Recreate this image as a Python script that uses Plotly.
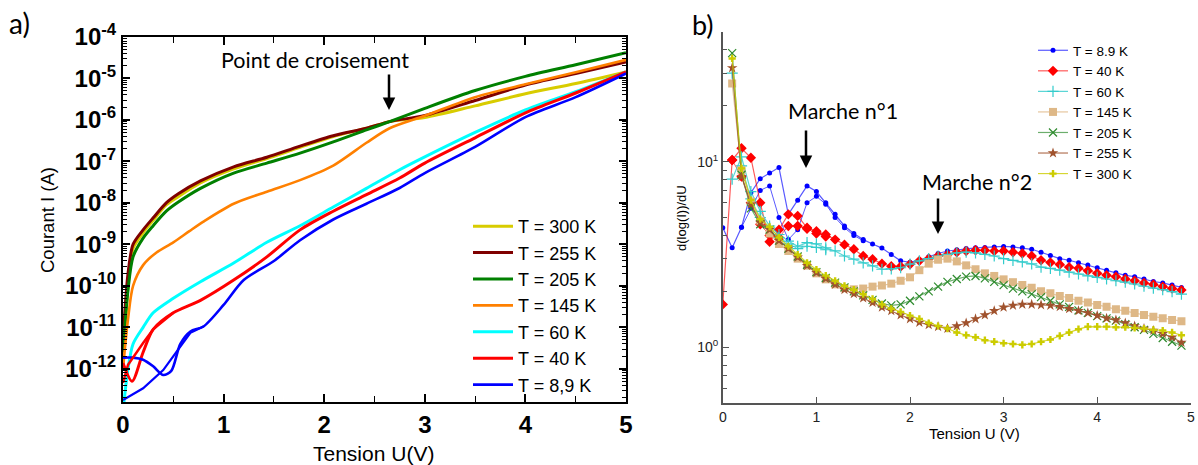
import numpy as np
import plotly.graph_objects as go

# ---------------- Panel a : I(V) curves (log10 of current in A) ----------------
V_hi = [0, 0.05, 0.1, 0.2, 0.3, 0.43, 0.55, 0.77, 1.1, 1.43, 1.76, 2.09, 2.42, 2.65, 3.0, 3.5, 4.0, 4.5, 5.0]
logI_300K = [-11.8, -10.0, -9.1, -8.72, -8.42, -8.05, -7.85, -7.52, -7.18, -6.93, -6.66, -6.4, -6.2, -6.04, -5.94, -5.66, -5.37, -5.12, -4.84]
logI_255K = [-11.3, -9.7, -9.0, -8.65, -8.36, -8.0, -7.78, -7.47, -7.13, -6.9, -6.63, -6.38, -6.2, -6.04, -5.89, -5.53, -5.16, -4.88, -4.6]
logI_205K = [-11.6, -10.1, -9.3, -8.85, -8.55, -8.2, -7.98, -7.65, -7.28, -7.04, -6.8, -6.53, -6.24, -6.04, -5.72, -5.29, -4.95, -4.67, -4.38]

V_145 = [0, 0.05, 0.1, 0.2, 0.33, 0.5, 0.66, 0.8, 1.1, 1.43, 1.76, 2.09, 2.42, 2.65, 3.0, 3.5, 4.0, 4.5, 5.0]
logI_145K = [-12.0, -10.8, -10.0, -9.5, -9.2, -8.95, -8.68, -8.45, -8.02, -7.73, -7.45, -7.1, -6.55, -6.2, -5.9, -5.45, -5.14, -4.85, -4.55]

V_60 = [0.01, 0.05, 0.1, 0.2, 0.3, 0.5, 0.77, 1.1, 1.43, 1.76, 2.09, 2.42, 2.75, 3.0, 3.5, 4.0, 4.5, 5.0]
logI_60K = [-12.8, -12.0, -11.4, -11.0, -10.65, -10.3, -9.9, -9.45, -8.95, -8.55, -8.1, -7.65, -7.2, -6.89, -6.3, -5.76, -5.32, -4.84]

V_40a = [0, 0.09, 0.2, 0.3, 0.5, 0.77, 1.1, 1.43, 1.76, 2.09, 2.42, 2.75, 3.0, 3.5, 4.0, 4.5, 5.0]
logI_40K_a = [-11.86, -12.3, -11.6, -11.05, -10.65, -10.35, -9.86, -9.3, -8.65, -8.2, -7.8, -7.4, -7.04, -6.43, -5.83, -5.35, -4.84]
V_40b = [0, 0.05, 0.2, 0.3, 0.5]
logI_40K_b = [-12.34, -11.9, -11.38, -11.05, -10.65]

V_9a = [0, 0.1, 0.2, 0.3, 0.4, 0.48, 0.57, 0.67, 0.8, 1.0, 1.2, 1.5, 1.76, 2.09, 2.42, 2.75, 3.0, 3.5, 4.0, 4.5, 5.0]
logI_9K_a = [-11.73, -11.73, -11.78, -11.94, -12.15, -12.05, -11.4, -11.1, -10.98, -10.46, -9.86, -9.4, -8.9, -8.4, -8.02, -7.64, -7.28, -6.65, -5.93, -5.45, -4.88]
V_9b = [0, 0.2, 0.4, 0.57, 0.67, 0.8]
logI_9K_b = [-12.75, -12.47, -12.03, -11.45, -11.13, -10.98]

# ---------------- Panel b : d(log(I))/dU ----------------
U = [0.0, 0.1, 0.2, 0.3, 0.4, 0.5, 0.6, 0.7, 0.8, 0.9, 1.0, 1.1, 1.2, 1.3, 1.4, 1.5, 1.6, 1.7, 1.8, 1.9,
     2.0, 2.1, 2.2, 2.3, 2.4, 2.5, 2.6, 2.7, 2.8, 2.9, 3.0, 3.1, 3.2, 3.3, 3.4, 3.5, 3.6, 3.7, 3.8, 3.9,
     4.0, 4.1, 4.2, 4.3, 4.4, 4.5, 4.6, 4.7, 4.8, 4.9]
U_from01 = U[1:]

d_8_9K = [4.4, 3.43, 4.43, 6.8, 8.1, 8.7, 9.3, 5.2, 6.2, 7.4, 6.9, 6.0, 5.2, 4.5, 4.1, 3.8, 3.6, 3.42, 3.16, 2.92,
          2.87, 2.94, 3.07, 3.2, 3.3, 3.35, 3.4, 3.43, 3.45, 3.47, 3.49, 3.47, 3.43, 3.37, 3.25, 3.12, 3.0, 2.94, 2.85, 2.77,
          2.68, 2.6, 2.52, 2.44, 2.4, 2.33, 2.26, 2.22, 2.16, 2.1]
U_8_9K_b = [0.2, 0.3, 0.4, 0.5, 0.6, 0.7, 0.8, 0.9, 1.0, 1.1, 1.2, 1.3, 1.4, 1.5]
d_8_9K_b = [4.43, 5.6, 7.0, 7.4, 5.0, 3.8, 4.3, 6.0, 6.5, 5.9, 5.0, 4.4, 4.0, 3.75]

d_40K = [1.7, 10.2, 11.8, 10.5, 6.0, 3.7, 4.3, 5.2, 5.1, 4.4, 4.22, 4.05, 3.8, 3.57, 3.37, 3.1, 2.98, 2.82, 2.73, 2.72,
         2.8, 2.92, 3.0, 3.1, 3.15, 3.25, 3.3, 3.33, 3.33, 3.3, 3.3, 3.25, 3.2, 3.1, 2.94, 2.86, 2.79, 2.7, 2.66, 2.58,
         2.5, 2.44, 2.4, 2.33, 2.28, 2.22, 2.18, 2.12, 2.07, 2.03]
U_40K_b = [0.1, 0.2, 0.3, 0.4, 0.5, 0.6, 0.7, 0.8, 0.9, 1.0, 1.1]
d_40K_b = [10.2, 8.3, 6.0, 4.6, 4.0, 3.9, 4.5, 4.5, 4.35, 4.1, 3.95]

d_60K = [8.05, 10.6, 6.9, 5.4, 4.5, 4.05, 3.73, 3.5, 3.66, 3.6, 3.43, 3.3, 3.1, 2.98, 2.85, 2.74, 2.63, 2.64, 2.68,
         2.8, 2.92, 3.0, 3.1, 3.16, 3.22, 3.25, 3.22, 3.16, 3.1, 3.0, 2.94, 2.88, 2.81, 2.7, 2.66, 2.6, 2.54, 2.48, 2.42,
         2.38, 2.33, 2.28, 2.24, 2.19, 2.13, 2.08, 2.04, 1.99, 1.93]
U_60K_b = [0.1, 0.2, 0.3, 0.4, 0.5, 0.6, 0.7, 0.8, 0.9, 1.0, 1.1]
d_60K_b = [30.0, 9.5, 6.3, 5.0, 4.4, 3.9, 3.6, 3.4, 3.5, 3.45, 3.35]

d_145K = [26.4, 9.0, 6.1, 4.8, 4.1, 3.6, 3.3, 3.0, 2.75, 2.5, 2.32, 2.18, 2.08, 2.05, 2.07, 2.12, 2.15, 2.2, 2.28,
          2.38, 2.6, 2.82, 2.96, 3.0, 2.9, 2.76, 2.63, 2.5, 2.42, 2.32, 2.24, 2.16, 2.09, 2.0, 1.95, 1.89, 1.84, 1.78, 1.74,
          1.69, 1.65, 1.6, 1.57, 1.53, 1.49, 1.46, 1.43, 1.4, 1.38]

d_205K = [38.5, 8.5, 5.6, 4.6, 4.3, 3.75, 3.4, 3.08, 2.78, 2.54, 2.36, 2.23, 2.1, 2.0, 1.9, 1.8, 1.72, 1.68, 1.7,
          1.78, 1.88, 2.0, 2.12, 2.25, 2.33, 2.4, 2.42, 2.35, 2.25, 2.16, 2.07, 2.0, 1.93, 1.86, 1.78, 1.7, 1.65, 1.58, 1.53,
          1.47, 1.43, 1.39, 1.33, 1.28, 1.24, 1.18, 1.12, 1.07, 1.02]

d_255K = [32.0, 8.3, 5.9, 4.7, 4.3, 3.75, 3.4, 3.05, 2.75, 2.52, 2.34, 2.18, 2.04, 1.94, 1.84, 1.74, 1.64, 1.57, 1.49,
          1.42, 1.36, 1.32, 1.29, 1.26, 1.3, 1.35, 1.42, 1.49, 1.57, 1.64, 1.68, 1.7, 1.7, 1.69, 1.68, 1.65, 1.61, 1.57, 1.53,
          1.48, 1.43, 1.4, 1.35, 1.3, 1.26, 1.23, 1.18, 1.13, 1.06]

d_300K = [36.0, 9.2, 6.2, 4.9, 4.45, 3.9, 3.5, 3.15, 2.85, 2.62, 2.43, 2.28, 2.14, 2.04, 1.93, 1.82, 1.7, 1.61, 1.55,
          1.48, 1.42, 1.35, 1.3, 1.26, 1.2, 1.16, 1.13, 1.09, 1.07, 1.05, 1.04, 1.03, 1.04, 1.07, 1.1, 1.15, 1.2, 1.25, 1.29,
          1.29, 1.29, 1.28, 1.28, 1.27, 1.26, 1.24, 1.23, 1.2, 1.16]

# tick labels
a_ytick_vals = [1e-12, 1e-11, 1e-10, 1e-9, 1e-8, 1e-7, 1e-6, 1e-5, 1e-4]
a_ytick_text = ["<b>10<sup>-12</sup></b>", "<b>10<sup>-11</sup></b>", "<b>10<sup>-10</sup></b>",
                "<b>10<sup>-9</sup></b>", "<b>10<sup>-8</sup></b>", "<b>10<sup>-7</sup></b>",
                "<b>10<sup>-6</sup></b>", "<b>10<sup>-5</sup></b>", "<b>10<sup>-4</sup></b>"]
a_xtick_vals = [0, 1, 2, 3, 4, 5]
a_xtick_text = ["<b>0</b>", "<b>1</b>", "<b>2</b>", "<b>3</b>", "<b>4</b>", "<b>5</b>"]
b_ytick_vals = [1, 10]
b_ytick_text = ["10<sup>0</sup>", "10<sup>1</sup>"]

W, H = 1198, 465
ARIAL = "Liberation Sans, Arial, sans-serif"
CALIBRI = "Lato, Carlito, Calibri, sans-serif"

fig = go.Figure()

def tenpow(arr):
    return list(np.power(10.0, np.array(arr)))

# panel a traces (legend order as in the picture)
a_specs = [
    ("T = 300 K", V_hi, logI_300K, "#D8CC00", 3),
    ("T = 255 K", V_hi, logI_255K, "#7F0000", 3),
    ("T = 205 K", V_hi, logI_205K, "#008000", 3),
    ("T = 145 K", V_145, logI_145K, "#FF8000", 2.6),
    ("T = 60 K", V_60, logI_60K, "#00FFFF", 3),
    ("T = 40 K", V_40a, logI_40K_a, "#FF0000", 3),
    ("T = 8,9 K", V_9a, logI_9K_a, "#0000FF", 2.6),
]
for name, vx, ly, col, lw in a_specs:
    fig.add_trace(go.Scatter(x=vx, y=tenpow(ly), mode="lines", name=name,
                             line=dict(color=col, width=lw, shape="spline", smoothing=0.8),
                             xaxis="x", yaxis="y", legend="legend"))
fig.add_trace(go.Scatter(x=V_40b, y=tenpow(logI_40K_b), mode="lines", showlegend=False,
                         line=dict(color="#FF0000", width=2.5), xaxis="x", yaxis="y"))
fig.add_trace(go.Scatter(x=V_9b, y=tenpow(logI_9K_b), mode="lines", showlegend=False,
                         line=dict(color="#0000FF", width=2.2), xaxis="x", yaxis="y"))

# panel b traces
b_specs = [
    ("T = 8.9 K", U, d_8_9K, "#0000FF", "rgba(0,0,255,0.65)", "circle", 5, None),
    ("T = 40 K", U, d_40K, "#FF0000", "rgba(255,0,0,0.65)", "diamond", 8, None),
    ("T = 60 K", U_from01, d_60K, "#33CCCC", "rgba(51,204,204,0.8)", "cross-thin", 8, "#33CCCC"),
    ("T = 145 K", U_from01, d_145K, "#DEB887", "rgba(222,184,135,0.8)", "square", 8, None),
    ("T = 205 K", U_from01, d_205K, "#2E8B2E", "rgba(46,139,46,0.7)", "x-thin", 8, "#2E8B2E"),
    ("T = 255 K", U_from01, d_255K, "#A0522D", "rgba(160,82,45,0.8)", "star", 8, None),
    ("T = 300 K", U_from01, d_300K, "#CCCC00", "rgba(204,204,0,0.8)", "cross", 6, None),
]
extra_b = {
    "T = 8.9 K": (U_8_9K_b, d_8_9K_b),
    "T = 40 K": (U_40K_b, d_40K_b),
    "T = 60 K": (U_60K_b, d_60K_b),
}
for name, ux, dy, col, lcol, sym, sz, mline in b_specs:
    mk = dict(symbol=sym, size=sz, color=col)
    if mline:
        mk["line"] = dict(color=mline, width=1.2)
    if name in extra_b:
        ex, ey = extra_b[name]
        fig.add_trace(go.Scatter(x=ex, y=ey, mode="lines+markers", showlegend=False,
                                 line=dict(color=lcol, width=1), marker=mk,
                                 xaxis="x2", yaxis="y2", legend="legend2"))
    fig.add_trace(go.Scatter(x=ux, y=dy, mode="lines+markers", name=name,
                             line=dict(color=lcol, width=1.2), marker=mk,
                             xaxis="x2", yaxis="y2", legend="legend2"))

# geometry (pixels -> paper)
ax_l, ax_r, ax_t, ax_b = 123, 626, 37, 402
bx_l, bx_r, bx_t, bx_b = 722.8, 1190.8, 32, 403

def px(x):
    return x / W

def py(y):
    return 1 - y / H

a_minor_y = [m * 10.0 ** k for k in range(-13, -4) for m in range(2, 10)]
b_minor_y = [m * 10.0 ** k for k in range(-1, 2) for m in range(2, 10)]

fig.update_layout(
    template="none",
    width=W, height=H,
    margin=dict(l=0, r=0, t=0, b=0, autoexpand=False),
    paper_bgcolor="white", plot_bgcolor="white",
    font=dict(family=ARIAL, color="black"),
    xaxis=dict(domain=[px(ax_l), px(ax_r)], range=[0, 5], anchor="y", automargin=False,
               showline=True, linecolor="black", linewidth=2, mirror="allticks",
               ticks="inside", ticklen=8, tickwidth=1.5, tickcolor="black",
               tickvals=a_xtick_vals, ticktext=a_xtick_text,
               tickfont=dict(size=24, family=ARIAL, color="black"),
               minor=dict(ticks="inside", ticklen=6, tickwidth=1.2, dtick=0.5, tick0=0, tickcolor="black"),
               showgrid=False, zeroline=False),
    yaxis=dict(domain=[py(ax_b), py(ax_t)], type="log", range=[-12.8, -4], anchor="x", automargin=False,
               showline=True, linecolor="black", linewidth=2, mirror="allticks",
               ticks="inside", ticklen=7, tickwidth=1.5, tickcolor="black",
               tickvals=a_ytick_vals, ticktext=a_ytick_text,
               tickfont=dict(size=24, family=ARIAL, color="black"),
               minor=dict(ticks="inside", ticklen=4, tickwidth=1, tickvals=a_minor_y, tickcolor="black"),
               showgrid=False, zeroline=False),
    xaxis2=dict(domain=[px(bx_l), px(bx_r)], range=[0, 5], anchor="y2", automargin=False,
                showline=True, linecolor="#555555", linewidth=1.5, mirror=False,
                ticks="inside", ticklen=6, tickwidth=1, tickcolor="#555555",
                tickvals=[0, 1, 2, 3, 4, 5],
                tickfont=dict(size=14, family=ARIAL, color="#222222"),
                showgrid=False, zeroline=False),
    yaxis2=dict(domain=[py(bx_b), py(bx_t)], type="log", range=[np.log10(0.5), np.log10(50)], anchor="x2",
                automargin=False,
                showline=True, linecolor="#555555", linewidth=1.5, mirror=False,
                ticks="inside", ticklen=6, tickwidth=1, tickcolor="#555555",
                tickvals=b_ytick_vals, ticktext=b_ytick_text,
                tickfont=dict(size=14, family=ARIAL, color="#222222"),
                minor=dict(ticks="inside", ticklen=4, tickwidth=1, tickvals=b_minor_y, tickcolor="#555555"),
                showgrid=False, zeroline=False),
    legend=dict(x=px(468), y=py(208), xanchor="left", yanchor="top",
                bgcolor="rgba(0,0,0,0)", borderwidth=0,
                font=dict(size=18, family=ARIAL, color="black"), itemwidth=40),
    legend2=dict(x=px(1033), y=py(35), xanchor="left", yanchor="top",
                 bgcolor="rgba(0,0,0,0)", borderwidth=0,
                 font=dict(size=13.5, family=ARIAL, color="black"), itemwidth=30),
    showlegend=True,
)

ann = []
C = dict(xanchor="center", yanchor="middle", xref="paper", yref="paper", showarrow=False)
# panel labels
ann.append(dict(text="a)", x=px(19), y=py(23), font=dict(size=28, family=CALIBRI, color="black"), **C))
ann.append(dict(text="b)", x=px(703), y=py(25), font=dict(size=27, family=CALIBRI, color="black"), **C))
# axis titles
ann.append(dict(text="Courant I (A)", x=px(47), y=py(220), textangle=-90,
                font=dict(size=18.5, family=ARIAL, color="black"), **C))
ann.append(dict(text="Tension U(V)", x=px(374), y=py(453),
                font=dict(size=21, family=ARIAL, color="black"), **C))
ann.append(dict(text="d(log(I))/dU", x=px(682), y=py(218), textangle=-90,
                font=dict(size=13, family=ARIAL, color="black"), **C))
ann.append(dict(text="Tension U (V)", x=px(974), y=py(433),
                font=dict(size=15, family=ARIAL, color="black"), **C))
# callouts
ann.append(dict(text="Point de croisement", x=px(315), y=py(60),
                font=dict(size=21.5, family=CALIBRI, color="black"), **C))
ann.append(dict(text="Marche n°1", x=px(843), y=py(111),
                font=dict(size=21.5, family=CALIBRI, color="black"), **C))
ann.append(dict(text="Marche n°2", x=px(977), y=py(182),
                font=dict(size=21.5, family=CALIBRI, color="black"), **C))
for (xa, y0, y1) in [(389, 73, 110), (806, 129, 168), (938, 197, 234)]:
    ann.append(dict(text="", x=px(xa), y=py(y1), xref="paper", yref="paper",
                    ax=0, ay=-(y1 - y0), axref="pixel", ayref="pixel",
                    showarrow=True, arrowhead=2, arrowsize=1, arrowwidth=2.5, arrowcolor="black"))
fig.update_layout(annotations=ann)

fig.write_html("out.html")
